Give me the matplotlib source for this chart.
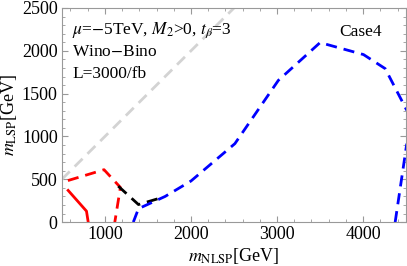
import numpy as np
import matplotlib.pyplot as plt
from matplotlib.ticker import MultipleLocator

plt.rcParams['font.family'] = 'Liberation Serif'
plt.rcParams['mathtext.fontset'] = 'stix'

# diagonal m_LSP = m_NLSP
diag_x = [500, 2500]
diag_y = [500, 2500]

# red solid
red_solid_x = [573, 786, 806]
red_solid_y = [370, 128, 0]

# red dashed
red_dash_x = [570, 990, 1180, 1115]
red_dash_y = [485, 612, 405, 0]

# black dashed
black_x = [1155, 1390, 1680]
black_y = [420, 205, 292]

# blue dashed (main)
blue_x = [1330, 1390, 1700, 2000, 2510, 3015, 3500, 4004, 4256, 4507]
blue_y = [0, 157, 300, 480, 916, 1655, 2096, 1956, 1792, 1305]

# blue dashed (right edge)
blue2_x = [4372, 4507]
blue2_y = [0, 916]

fig = plt.figure(figsize=(4.07, 2.66), dpi=100)
ax = fig.add_axes([0.152, 0.165, 0.846, 0.805])

ax.plot(diag_x, diag_y, color='#d3d3d3', lw=2, dashes=(4, 2.5))
ax.plot(red_solid_x, red_solid_y, color='red', lw=2)
ax.plot(red_dash_x, red_dash_y, color='red', lw=2, dashes=(4, 2.5))
ax.plot(black_x, black_y, color='black', lw=2, dashes=(4, 2.5))
ax.plot(blue_x, blue_y, color='blue', lw=2, dashes=(4, 2.5))
ax.plot(blue2_x, blue2_y, color='blue', lw=2, dashes=(4, 2.5))

ax.set_xlim(500, 4500)
ax.set_ylim(0, 2500)
ax.xaxis.set_major_locator(MultipleLocator(1000))
ax.xaxis.set_minor_locator(MultipleLocator(200))
ax.yaxis.set_major_locator(MultipleLocator(500))
ax.yaxis.set_minor_locator(MultipleLocator(100))
ax.tick_params(which='both', direction='in', top=True, right=True,
               color='#999999', labelsize=13, pad=3)
ax.tick_params(which='major', length=4)
ax.tick_params(which='minor', length=2.5)
for s in ax.spines.values():
    s.set_color('#999999')

ax.set_xlabel(r'$m_{\rm NLSP}$[GeV]', fontsize=13, labelpad=2)
ax.set_ylabel(r'$m_{\rm LSP}$[GeV]', fontsize=13, labelpad=2)

ax.text(0.03, 0.88, r'$\mu$=$-$5TeV, $M_2$>0, $t_\beta$=3', transform=ax.transAxes, fontsize=12.5)
ax.text(0.03, 0.775, 'Wino$-$Bino', transform=ax.transAxes, fontsize=12.5)
ax.text(0.03, 0.675, 'L=3000/fb', transform=ax.transAxes, fontsize=12.5)
ax.text(0.805, 0.87, 'Case4', transform=ax.transAxes, fontsize=12.5)

fig.savefig('out.png', dpi=100)
